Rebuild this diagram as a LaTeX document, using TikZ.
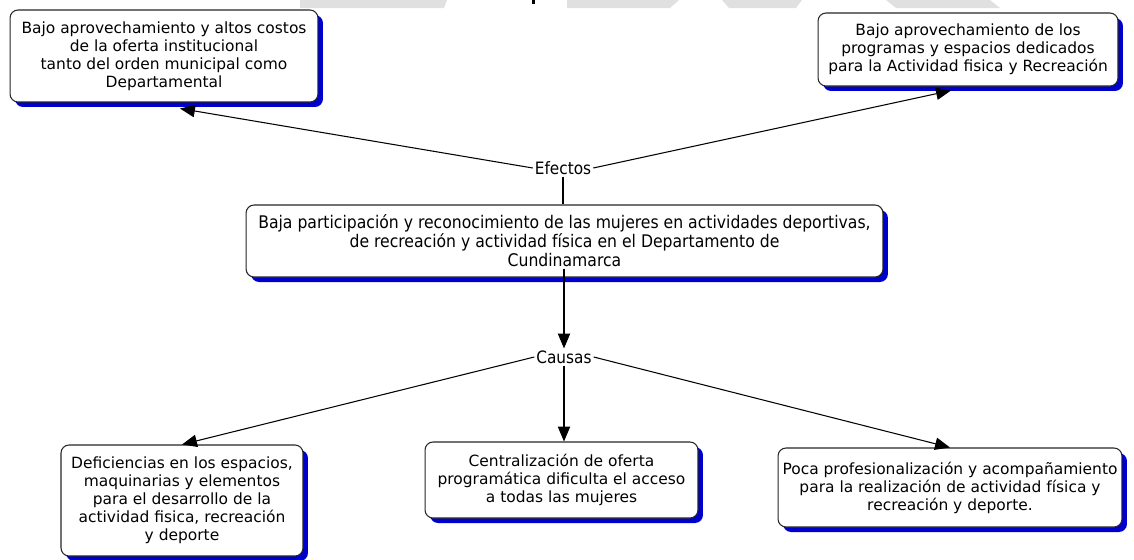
\documentclass[tikz,border=0pt]{standalone}
\usepackage{fontspec}
\setmainfont{DejaVu Sans}
\newfontfamily\condfont{DejaVu Sans Condensed}
\usetikzlibrary{shapes,arrows.meta,positioning,shadows}
\definecolor{shadowblue}{RGB}{0,0,205}
\definecolor{markgray}{RGB}{224,224,224}

\begin{document}
\begin{tikzpicture}[
			x=0.02cm, y=-0.02cm,
			block/.style={rectangle, rounded corners=0.16cm, draw=black!85, line width=0.6pt, fill=white, align=center, inner sep=0pt,
				font=\fontsize{8.8}{10.2}\selectfont,
				drop shadow={shadow xshift=0.1cm, shadow yshift=-0.1cm, fill=shadowblue, opacity=1}},
			label/.style={inner sep=1pt, font=\condfont\fontsize{9.7}{11}\selectfont},
			link/.style={draw=black, line width=0.6pt},
			arrow/.style={link, -{Triangle[length=8.5pt, width=7pt]}}
		]
		\useasboundingbox (0,0) rectangle (1134,559);

		\fill[markgray] (300,0) -- (447,0) -- (444,8) -- (300,8) -- cycle;
		\fill[markgray] (567,0) -- (679,0) -- (670,8) -- (567,8) -- cycle;
		\fill[markgray] (722,0) -- (802,0) -- (796,8) -- (729,8) -- cycle;
		\fill[markgray] (886,0) -- (990,0) -- (1000,8) -- (896,8) -- cycle;
		\fill[black] (532,0) rectangle (535,4);

		\node[block, minimum width=6.16cm, minimum height=1.84cm] (EffectLeft) at (164,56)
			{Bajo aprovechamiento y altos costos\\ de la oferta institucional\\ tanto del orden municipal como\\ Departamental};
		\node[block, minimum width=6.0cm, minimum height=1.46cm] (EffectRight) at (968,49.5)
			{Bajo aprovechamiento de los\\ programas y espacios dedicados\\ para la Actividad fisica y Recreación};

		\node[label] (Effects) at (563,168) {Efectos};

		\node[block, minimum width=12.74cm, minimum height=1.44cm, font=\condfont\fontsize{9.9}{10.8}\selectfont] (Problem) at (564.5,241)
			{Baja participación y reconocimiento de las mujeres en actividades deportivas,\\ de recreación y actividad física en el Departamento de\\ Cundinamarca};

		\node[label] (Causes) at (564,357) {Causas};

		\node[block, minimum width=4.84cm, minimum height=2.22cm] (CauseLeft) at (182,500.5)
			{Deficiencias en los espacios,\\ maquinarias y elementos\\ para el desarrollo de la\\ actividad fisica, recreación\\ y deporte};
		\node[block, minimum width=5.46cm, minimum height=1.52cm] (CauseMid) at (561.5,480)
			{Centralización de oferta\\ programática dificulta el acceso\\ a todas las mujeres};
		\node[block, minimum width=6.88cm, minimum height=1.58cm] (CauseRight) at (950,487.5)
			{Poca profesionalización y acompañamiento\\ para la realización de actividad física y\\ recreación y deporte.};

		\draw[arrow] (Effects.west) -- ([shift={(16,6)}]EffectLeft.south);
		\draw[arrow] (Effects.east) -- ([shift={(-17,4)}]EffectRight.south);
		\draw[link] (Effects.south) -- (Problem.north -| Effects.south);

		\draw[arrow] ([yshift=5]Problem.south -| Causes.north) -- (Causes.north);

		\draw[arrow] (Causes.west) -- (CauseLeft.north);
		\draw[arrow] (Causes.south) -- (CauseMid.north -| Causes.south);
		\draw[arrow] (Causes.east) -- (CauseRight.north);

	\end{tikzpicture}
\end{document}
